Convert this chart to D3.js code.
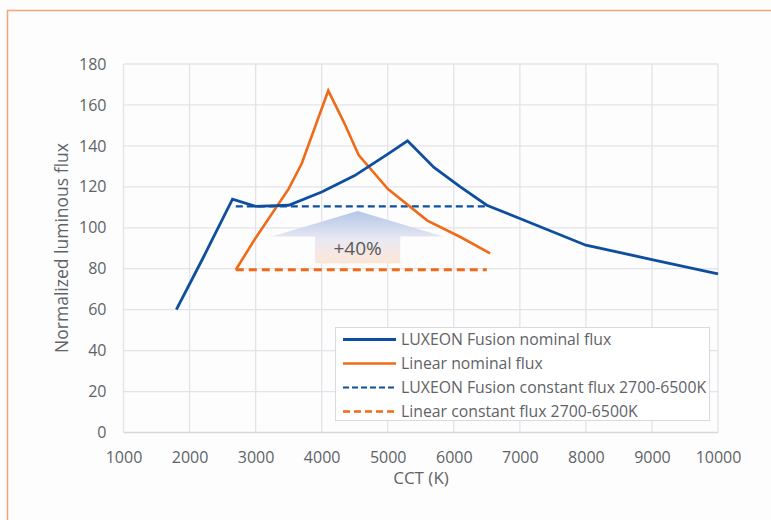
<!DOCTYPE html>
<html><head><meta charset="utf-8">
<script src="https://cdn.jsdelivr.net/npm/d3@7"></script>
<style>
html,body{margin:0;padding:0;background:#fff;}
svg{display:block;font-family:"Open Sans",sans-serif;}
</style></head>
<body><svg id="c" width="771" height="520"></svg>
<script>
const xTicks = [1000,2000,3000,4000,5000,6000,7000,8000,9000,10000];
const yTicks = [0,20,40,60,80,100,120,140,160,180];
const fusionCCT  = [1800,2200,2650,3000,3500,4000,4500,5000,5300,5700,6100,6500,7000,8000,9000,10000];
const fusionFlux = [60,85,114,110.5,111,117.5,125.5,136,142.5,129.5,120,111,104.5,91.5,84.5,77.5];
const linearCCT  = [2700,3000,3500,3700,4100,4330,4560,5000,5600,6100,6550];
const linearFlux = [79.5,95,119,131.5,167,152,135.5,119,103.5,95.5,87.5];
const constCCT = [2700,6500];
const fusionConst = [110.5,110.5];
const linearConst = [79.5,79.5];
const seriesNames = ["LUXEON Fusion nominal flux","Linear nominal flux","LUXEON Fusion constant flux 2700-6500K","Linear constant flux 2700-6500K"];
const xTitle = "CCT (K)";
const yTitle = "Normalized luminous flux";
const arrowLabel = "+40%";

const blue = "#0d4f9e", orange = "#f06a18", txt = "#5f6368";
const svg = d3.select("#c");
svg.append("rect").attr("width",771).attr("height",520).attr("fill","#fdfdfd");
// frame
svg.append("path").attr("d","M7.5,520 V10.5 H771").attr("fill","none").attr("stroke","#f5a47a").attr("stroke-width",1.5);

const x = d3.scaleLinear().domain([1000,10000]).range([123.5,718]);
const y = d3.scaleLinear().domain([0,180]).range([432.5,64]);

// grid
const g = svg.append("g");
g.selectAll(".hg").data(yTicks.filter(d=>d>0)).enter().append("line")
 .attr("x1",x(1000)).attr("x2",x(10000)).attr("y1",d=>y(d)).attr("y2",d=>y(d))
 .attr("stroke","#e3e3ea").attr("stroke-width",1.3);
g.selectAll(".vg").data(xTicks).enter().append("line")
 .attr("x1",d=>x(d)).attr("x2",d=>x(d)).attr("y1",y(0)).attr("y2",y(180))
 .attr("stroke","#e3e3ea").attr("stroke-width",1.3);
g.append("line").attr("x1",x(1000)).attr("x2",x(10000)).attr("y1",y(0)).attr("y2",y(0))
 .attr("stroke","#d6d6de").attr("stroke-width",1.5);

// axes labels via d3 axes
const xa = svg.append("g").attr("transform",`translate(0,${y(0)})`)
 .call(d3.axisBottom(x).tickValues(xTicks).tickFormat(d3.format("d")).tickSize(0).tickPadding(19));
const ya = svg.append("g").attr("transform",`translate(${x(1000)},0)`)
 .call(d3.axisLeft(y).tickValues(yTicks).tickSize(0).tickPadding(17));
[xa,ya].forEach(a=>{a.select(".domain").remove();
 a.selectAll("text").attr("fill",txt).style("font-size","16px").style("font-family","'Open Sans',sans-serif");});

svg.append("text").attr("x",421).attr("y",484).attr("text-anchor","middle")
 .attr("fill",txt).style("font-size","17px").text(xTitle);
svg.append("text").attr("transform","translate(68,248) rotate(-90)").attr("text-anchor","middle")
 .attr("fill",txt).style("font-size","17.5px").text(yTitle);

// arrow
const defs = svg.append("defs");
const gr = defs.append("linearGradient").attr("id","ag").attr("x1",0).attr("y1",0).attr("x2",0).attr("y2",1);
gr.append("stop").attr("offset","0%").attr("stop-color","#b3c6e8");
gr.append("stop").attr("offset","55%").attr("stop-color","#e9e9f3");
gr.append("stop").attr("offset","100%").attr("stop-color","#fde6d6");
const tipC = 4545, tip = y(108.2), headB = y(95.7), bot = y(82.7);
svg.append("path").attr("fill","url(#ag)")
 .attr("d",`M${x(tipC)},${tip} L${x(5840)},${headB} L${x(5190)},${headB} L${x(5190)},${bot} L${x(3900)},${bot} L${x(3900)},${headB} L${x(3243)},${headB} Z`);
svg.append("text").attr("x",x(tipC)).attr("y",y(86.5)).attr("text-anchor","middle")
 .attr("fill","#595959").style("font-size","19px").text(arrowLabel);

const line = d3.line().x(d=>x(d[0])).y(d=>y(d[1]));
const plot = (xs,ys,col,w,dash)=>svg.append("path").datum(xs.map((v,i)=>[v,ys[i]]))
 .attr("d",line).attr("fill","none").attr("stroke",col).attr("stroke-width",w)
 .attr("stroke-dasharray",dash||null).attr("stroke-linejoin","miter");
plot(constCCT,linearConst,orange,2.8,"8,5");
plot(constCCT,fusionConst,blue,2.2,"7,4");
plot(linearCCT,linearFlux,orange,2.6);
plot(fusionCCT,fusionFlux,blue,2.8);

// legend
const lg = svg.append("g");
lg.append("rect").attr("x",335.5).attr("y",327.5).attr("width",374).attr("height",93)
 .attr("fill","#fff").attr("stroke","#d9d9de").attr("stroke-width",1);
const ls = [[blue,2.8,null],[orange,2.6,null],[blue,2.2,"6,3"],[orange,2.6,"7,4"]];
seriesNames.forEach((n,i)=>{
 const yy = 339.5 + i*24;
 lg.append("line").attr("x1",343).attr("x2",396).attr("y1",yy).attr("y2",yy)
  .attr("stroke",ls[i][0]).attr("stroke-width",ls[i][1]).attr("stroke-dasharray",ls[i][2]);
 lg.append("text").attr("x",401).attr("y",yy+5.5).attr("fill",txt).style("font-size","15.8px").text(n);
});
</script></body></html>
